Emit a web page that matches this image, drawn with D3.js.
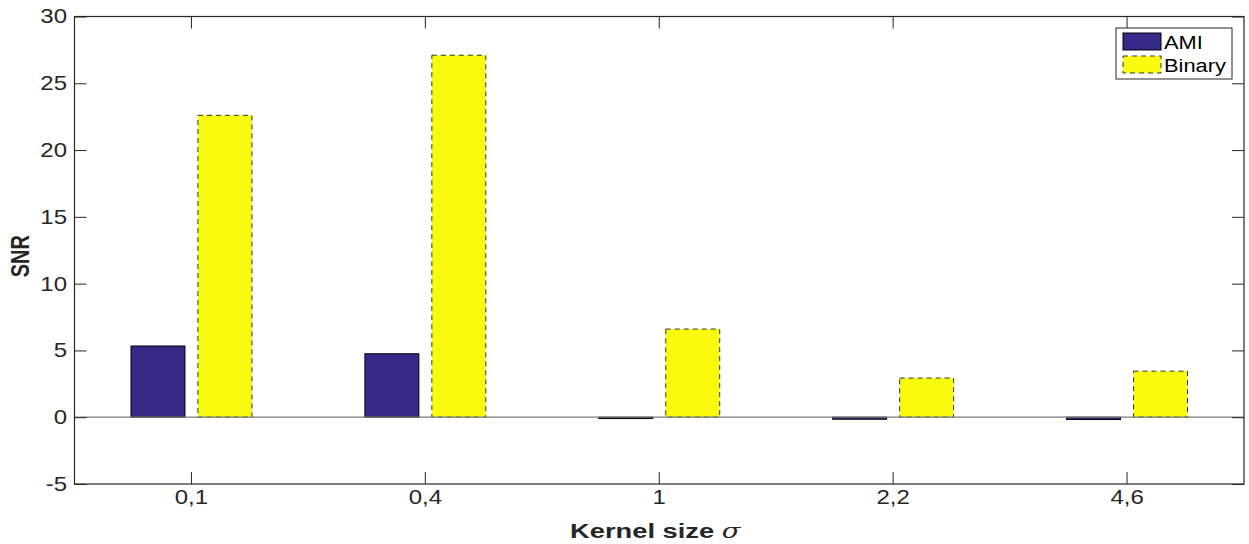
<!DOCTYPE html>
<html>
<head>
<meta charset="utf-8">
<script src="https://cdn.jsdelivr.net/npm/d3@7"></script>
<style>
  html, body { margin: 0; padding: 0; background: #fff; }
  svg { display: block; font-family: "Liberation Sans", Arial, Helvetica, sans-serif; }
</style>
</head>
<body>
<svg id="chart" width="1249" height="544"></svg>
<script>
// Kernel sizes (decimal comma) and SNR per method
const categories = ["0,1", "0,4", "1", "2,2", "4,6"];
const seriesNames = ["AMI", "Binary"];
const amiValues = [5.33, 4.75, -0.1, -0.15, -0.17];
const binaryValues = [22.6, 27.1, 6.6, 2.93, 3.45];
const yTicks = [-5, 0, 5, 10, 15, 20, 25, 30];

const colors = { AMI: "#352a87", Binary: "#f9fb0e" };
const axisColor = "#262626";
const textStretch = 1.2;    // figure text is rendered horizontally widened

const svg = d3.select("#chart");
const plot = { left: 74.5, right: 1244, top: 16.5, bottom: 484 };

const x = d3.scaleBand().domain(categories).range([plot.left, plot.right]).padding(0);
const bw = x.bandwidth();
const xInner = d3.scaleBand().domain(seriesNames)
  .range([bw * 0.2415, bw * 0.7585]).paddingInner(0.194).paddingOuter(0);
const y = d3.scaleLinear().domain([-5, 30]).range([plot.bottom, plot.top]);

const rows = categories.map((c, i) => ({ cat: c, AMI: amiValues[i], Binary: binaryValues[i] }));

// Bars
const groups = svg.append("g").selectAll("g").data(rows).join("g")
  .attr("transform", d => `translate(${x(d.cat)},0)`);

groups.selectAll("rect")
  .data(d => seriesNames.map(s => ({ s, v: d[s] })))
  .join("rect")
  .attr("x", d => xInner(d.s))
  .attr("width", xInner.bandwidth())
  .attr("y", d => y(Math.max(0, d.v)))
  .attr("height", d => Math.abs(y(d.v) - y(0)))
  .attr("fill", d => colors[d.s])
  .attr("stroke", d => d.s === "AMI" ? "#000" : "#333")
  .attr("stroke-width", 1)
  .attr("stroke-dasharray", d => d.s === "Binary" ? "5,4" : null);

// Baseline at zero
svg.append("line")
  .attr("x1", plot.left).attr("x2", plot.right)
  .attr("y1", y(0)).attr("y2", y(0))
  .attr("stroke", "#7a7a7a").attr("stroke-width", 1.2);

// Axis box
svg.append("rect")
  .attr("x", plot.left).attr("y", plot.top)
  .attr("width", plot.right - plot.left).attr("height", plot.bottom - plot.top)
  .attr("fill", "none").attr("stroke", axisColor).attr("stroke-width", 1.2);

// Y axis (left) with inward ticks
const yPad = 7.5;
const yAxis = d3.axisLeft(y).tickValues(yTicks).tickSizeInner(-12).tickSizeOuter(0).tickPadding(yPad)
  .tickFormat(d => String(d));
const gy = svg.append("g").attr("transform", `translate(${plot.left},0)`).call(yAxis);
gy.select(".domain").remove();
gy.selectAll(".tick line").attr("stroke", axisColor);
gy.selectAll(".tick text").attr("fill", axisColor).style("font-size", "20px")
  .attr("transform", `translate(${-yPad},0) scale(${textStretch},1) translate(${yPad},0)`);

// Right-side mirrored ticks
const gyr = svg.append("g").attr("transform", `translate(${plot.right},0)`)
  .call(d3.axisRight(y).tickValues(yTicks).tickSizeInner(-12).tickSizeOuter(0).tickFormat(""));
gyr.select(".domain").remove();
gyr.selectAll(".tick line").attr("stroke", axisColor);

// X axis (bottom) with inward ticks
const xAxis = d3.axisBottom(x).tickSizeInner(-12).tickSizeOuter(0).tickPadding(6);
const gx = svg.append("g").attr("transform", `translate(0,${plot.bottom})`).call(xAxis);
gx.select(".domain").remove();
gx.selectAll(".tick line").attr("stroke", axisColor);
gx.selectAll(".tick text").attr("fill", axisColor).style("font-size", "20px")
  .attr("transform", `scale(${textStretch},1)`);

// Top mirrored ticks
const gxt = svg.append("g").attr("transform", `translate(0,${plot.top})`)
  .call(d3.axisTop(x).tickSizeInner(-12).tickSizeOuter(0).tickFormat(""));
gxt.select(".domain").remove();
gxt.selectAll(".tick line").attr("stroke", axisColor);

// Axis titles
svg.append("text")
  .attr("transform", `translate(29,${(plot.top + plot.bottom) / 2 + 6}) scale(1.3,1) rotate(-90)`)
  .attr("text-anchor", "middle")
  .attr("fill", axisColor)
  .style("font-size", "20px").style("font-weight", "bold")
  .text("SNR");

const xt = svg.append("text")
  .attr("transform", `translate(${(plot.left + plot.right) / 2 - 4},538) scale(1.3,1)`)
  .attr("text-anchor", "middle")
  .attr("fill", axisColor)
  .style("font-size", "21px").style("font-weight", "bold");
xt.append("tspan").text("Kernel size ");
xt.append("tspan").style("font-family", "'DejaVu Serif', 'Liberation Serif', serif")
  .style("font-style", "italic").style("font-weight", "normal").text("σ");

// Legend
const legend = svg.append("g").attr("transform", "translate(1116,28)");
legend.append("rect")
  .attr("width", 116).attr("height", 51)
  .attr("fill", "#fff").attr("stroke", axisColor).attr("stroke-width", 1);
const items = legend.selectAll("g.item").data(seriesNames).join("g")
  .attr("class", "item")
  .attr("transform", (d, i) => `translate(7,${5 + i * 23})`);
items.append("rect")
  .attr("width", 38).attr("height", 17)
  .attr("fill", d => colors[d])
  .attr("stroke", d => d === "AMI" ? "#000" : "#333")
  .attr("stroke-dasharray", d => d === "Binary" ? "5,4" : null);
items.append("text")
  .attr("transform", `translate(41,16) scale(1.15,1)`)
  .attr("fill", "#000")
  .style("font-size", "19px")
  .text(d => d);
</script>
</body>
</html>
